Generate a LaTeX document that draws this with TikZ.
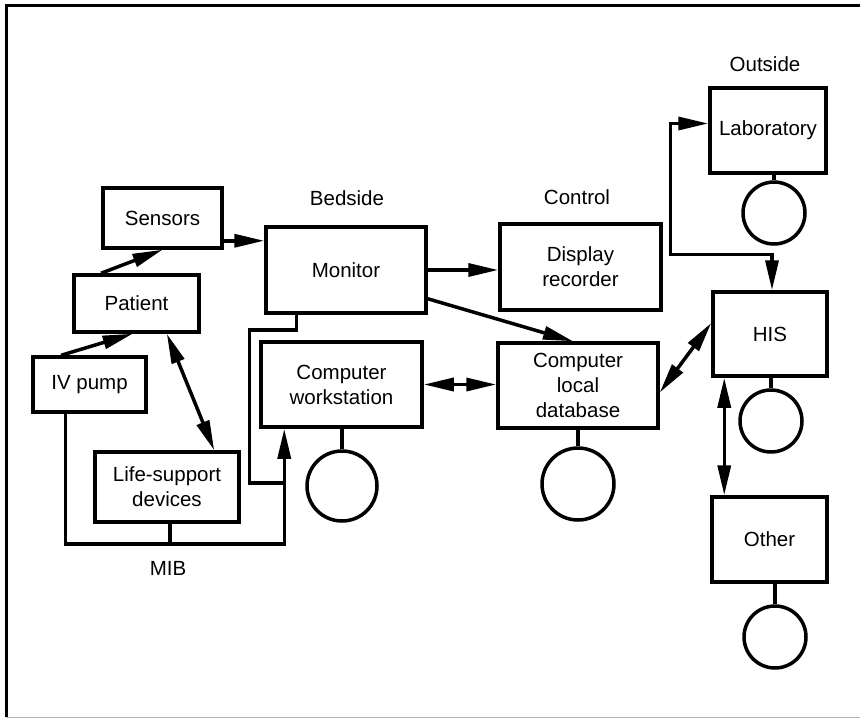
\documentclass[tikz,border=0pt]{standalone}
\usepackage{fontspec}
\setmainfont{Liberation Sans}
\usetikzlibrary{arrows.meta,calc}
\begin{document}
\begin{tikzpicture}[x=1pt,y=-1pt,
  every node/.style={font=\fontsize{20.5}{25}\selectfont},
  box/.style={draw, line width=3.5pt, rectangle, inner sep=0pt, align=center},
  disk/.style={draw, line width=3.5pt, circle, inner sep=0pt},
  conn/.style={line width=3.5pt},
  arrto/.style={-{Triangle[length=30pt,width=13pt]}},
  arrboth/.style={{Triangle[length=30pt,width=13pt]}-{Triangle[length=30pt,width=13pt]}}
]
\useasboundingbox (0,0) rectangle (860,718);
% frame
\draw[line width=3pt] (860,5) -- (6,5) -- (6,717);
\draw[line width=1pt, gray!60] (6,717) -- (860,717);

% boxes
\node[box, minimum width=119pt, minimum height=60pt] (sen) at (162.5,218) {Sensors};
\node[box, minimum width=125pt, minimum height=57pt] (pat) at (136.5,303.5) {Patient};
\node[box, minimum width=113pt, minimum height=55pt] (iv) at (89.5,384.5) {IV pump};
\node[box, minimum width=144pt, minimum height=70pt] (life) at (167,487) {Life-support\\devices};
\node[box, minimum width=160pt, minimum height=86pt] (mon) at (346,270) {Monitor};
\node[box, minimum width=161pt, minimum height=85pt] (ws) at (341.5,384.5) {Computer\\workstation};
\node[box, minimum width=161pt, minimum height=86pt] (disp) at (580.5,267) {Display\\recorder};
\node[box, minimum width=160pt, minimum height=85pt] (db) at (578,385.5) {Computer\\local\\database};
\node[box, minimum width=116pt, minimum height=85pt] (lab) at (768,130.5) {Laboratory};
\node[box, minimum width=114pt, minimum height=84pt] (his) at (770,334) {HIS};
\node[box, minimum width=115pt, minimum height=85pt] (oth) at (769.5,539.5) {Other};

% disks
\node[disk, minimum size=70pt] (wsd) at (342,486) {};
\node[disk, minimum size=72pt] (dbd) at (578,484) {};
\node[disk, minimum size=62pt] (labd) at (774,213) {};
\node[disk, minimum size=62pt] (hisd) at (771,421) {};
\node[disk, minimum size=62pt] (othd) at (775,637) {};
\draw[conn] (ws.south -| wsd.north) -- (wsd.north);
\draw[conn] (db.south -| dbd.north) -- (dbd.north);
\draw[conn] (lab.south -| labd.north) -- (labd.north);
\draw[conn] (his.south -| hisd.north) -- (hisd.north);
\draw[conn] (oth.south -| othd.north) -- (othd.north);

% labels
\node (bed) at (347,198) {Bedside};
\node (ctl) at (577,197) {Control};
\node (out) at (765,64) {Outside};
\node (mib) at (168,568) {MIB};

% connectors
\draw[conn, arrto] ($(pat.north west)!0.224!(pat.north east)$) -- (sen.south);
\draw[conn, arrto] ($(iv.north west)!0.257!(iv.north east)$) -- ($(pat.south west)!0.47!(pat.south east)$);
\draw[conn, arrboth] ($(pat.south west)!0.736!(pat.south east)$) -- ($(life.north west)!0.82!(life.north east)$);
\coordinate (s1) at ($(sen.south east)+(0,-9)$);
\draw[conn, arrto] (s1) -- (s1 -| mon.west);
\draw[conn, arrto] (mon.east) -- (mon.east -| disp.west);
\draw[conn, arrto] ($(mon.south east)+(0,-16)$) -- ($(db.north)+(-5,0)$);
\draw[conn, arrboth] (ws.east) -- (ws.east -| db.west);
\draw[conn, arrboth] ($(db.east)+(0,7)$) -- ($(his.west)+(0,-11)$);
\coordinate (h2) at ($(his.south west)+(13,0)$);
\draw[conn, arrboth] (h2) -- (h2 |- oth.north);
\coordinate (l1) at ($(lab.west)+(0,-7)$);
\coordinate (h1) at ($(his.north)+(2,0)$);
\draw[conn, arrboth] (l1) -- ++(-38,0) |- ($(h1)+(0,-36)$) -- (h1);

% MIB bus
\coordinate (w1) at ($(ws.south west)+(25,0)$);
\coordinate (bus) at ($(w1)+(0,115)$);
\draw[conn, arrto] ($(iv.south west)+(34,0)$) |- (bus) -- (w1);
\draw[conn] ($(life.south)+(3,0)$) -- ++(0,20);
\draw[conn] ($(mon.south west)+(32,0)$) -- ++(0,15) -- ++(-47,0) -- ++(0,153) -- ++(35,0);
\end{tikzpicture}
\end{document}
